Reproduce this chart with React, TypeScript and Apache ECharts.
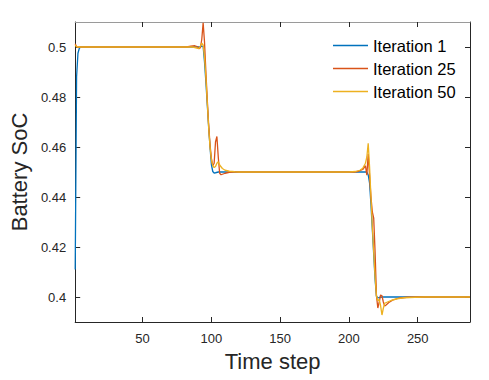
import React, { useEffect, useRef } from "react";
import * as echarts from "echarts";

// [time step, battery SoC]
const iteration1: [number, number][] = [
  [1, 0.411], [2, 0.488], [3, 0.4975], [4, 0.4995], [5, 0.5], [92, 0.5], [93, 0.5004], [94, 0.5002],
  [95, 0.494], [96, 0.486], [97, 0.477], [98, 0.468], [99, 0.46], [100, 0.453], [101, 0.4502],
  [102, 0.4496], [103, 0.4497], [105, 0.45], [213, 0.45], [214, 0.4488], [215, 0.4455], [216, 0.437],
  [217, 0.427], [218, 0.417], [219, 0.407], [220, 0.4003], [221, 0.3996], [222, 0.3998], [224, 0.4],
  [288, 0.4],
];

const iteration25: [number, number][] = [
  [1, 0.5013], [2, 0.5001], [3, 0.4999], [4, 0.5], [82, 0.5], [85, 0.5003], [88, 0.5005], [90, 0.5001],
  [91, 0.4993], [92, 0.4997], [93, 0.503], [94, 0.5097], [95, 0.502], [96, 0.49], [97, 0.479],
  [98, 0.469], [99, 0.461], [100, 0.4555], [101, 0.4525], [102, 0.4535], [103, 0.462], [104, 0.4642],
  [105, 0.456], [106, 0.4495], [107, 0.4489], [108, 0.4491], [110, 0.4495], [113, 0.4499], [116, 0.45],
  [204, 0.45], [207, 0.4503], [210, 0.451], [212, 0.4525], [213, 0.4487], [214, 0.4572], [215, 0.4485],
  [216, 0.44], [217, 0.434], [218, 0.4315], [219, 0.418], [220, 0.4005], [221, 0.3956], [222, 0.398],
  [223, 0.4008], [224, 0.4005], [225, 0.398], [226, 0.3964], [227, 0.3968], [229, 0.3978], [232, 0.3988],
  [236, 0.3995], [242, 0.3999], [250, 0.4], [288, 0.4],
];

const iteration50: [number, number][] = [
  [1, 0.5008], [2, 0.5001], [3, 0.5], [86, 0.5], [88, 0.4998], [90, 0.4995], [91, 0.4994], [92, 0.5004],
  [93, 0.5015], [94, 0.5008], [95, 0.496], [96, 0.488], [97, 0.478], [98, 0.468], [99, 0.46],
  [100, 0.455], [101, 0.4525], [102, 0.4518], [103, 0.4522], [104, 0.4535], [105, 0.4541], [106, 0.4528],
  [108, 0.4514], [110, 0.4507], [113, 0.4503], [117, 0.4501], [120, 0.45], [200, 0.45], [205, 0.4502],
  [208, 0.4507], [210, 0.4515], [212, 0.4535], [213, 0.456], [214, 0.4615], [215, 0.452], [216, 0.44],
  [217, 0.428], [218, 0.418], [219, 0.408], [220, 0.4005], [221, 0.3985], [222, 0.399], [223, 0.3965],
  [224, 0.3928], [225, 0.3955], [226, 0.3975], [228, 0.398], [231, 0.3987], [235, 0.3993], [240, 0.3997],
  [248, 0.3999], [255, 0.4], [288, 0.4],
];

const seriesNames = ["Iteration 1", "Iteration 25", "Iteration 50"];
const xTicks = [50, 100, 150, 200, 250];
const yTicks = [0.4, 0.42, 0.44, 0.46, 0.48, 0.5];

const FONT = "'Liberation Sans', Arial, Helvetica, sans-serif";
const AX = "#262626";

export default function App() {
  const ref = useRef<HTMLDivElement>(null);
  useEffect(() => {
    if (!ref.current) return;
    const chart = echarts.init(ref.current, undefined, { renderer: "svg" });
    const xBase = {
      type: "value" as const,
      min: 1,
      max: 288,
      splitLine: { show: false },
      axisLine: { show: true, onZero: false, lineStyle: { color: AX, width: 1 } },
      axisTick: { show: true, inside: true, length: 5, customValues: xTicks, lineStyle: { color: AX } },
    };
    const yBase = {
      type: "value" as const,
      min: 0.39,
      max: 0.51,
      splitLine: { show: false },
      axisLine: { show: true, onZero: false, lineStyle: { color: AX, width: 1 } },
      axisTick: { show: true, inside: true, length: 5, customValues: yTicks, lineStyle: { color: AX } },
    };
    chart.setOption({
      animation: false,
      backgroundColor: "#ffffff",
      textStyle: { fontFamily: FONT },
      grid: { left: 75, right: 19, top: 22, bottom: 58, containLabel: false },
      legend: {
        data: seriesNames.map((n) => ({ name: n, icon: "rect" })),
        orient: "vertical",
        left: 333,
        top: 37,
        padding: 0,
        itemGap: 6,
        itemWidth: 35,
        itemHeight: 1.5,
        textStyle: { fontFamily: FONT, fontSize: 16.5, color: "#000", lineHeight: 16.5 },
      },
      xAxis: [
        {
          ...xBase,
          position: "bottom",
          name: "Time step",
          nameLocation: "middle",
          nameGap: 28,
          nameTextStyle: { fontFamily: FONT, fontSize: 22, color: AX },
          axisLabel: { show: true, customValues: xTicks, fontSize: 13, color: AX, margin: 10, fontFamily: FONT },
        },
        {
          ...xBase,
          position: "top",
          axisLine: { show: true, onZero: false, lineStyle: { color: "#9a9a9a", width: 1 } },
          axisLabel: { show: false },
        },
      ],
      yAxis: [
        {
          ...yBase,
          position: "left",
          name: "Battery SoC",
          nameLocation: "middle",
          nameGap: 33,
          nameRotate: 90,
          nameTextStyle: { fontFamily: FONT, fontSize: 22, color: AX },
          axisLabel: {
            show: true,
            customValues: yTicks,
            fontSize: 13,
            color: AX,
            margin: 9,
            fontFamily: FONT,
            formatter: (v: number) => String(parseFloat(v.toFixed(2))),
          },
        },
        {
          ...yBase,
          position: "right",
          axisLabel: { show: false },
        },
      ],
      series: [
        { name: seriesNames[0], data: iteration1, color: "#0072BD" },
        { name: seriesNames[1], data: iteration25, color: "#D95319" },
        { name: seriesNames[2], data: iteration50, color: "#EDB120" },
      ].map((s) => ({
        type: "line",
        name: s.name,
        data: s.data,
        xAxisIndex: 0,
        yAxisIndex: 0,
        symbol: "none",
        showSymbol: false,
        clip: true,
        itemStyle: { color: s.color },
        lineStyle: { color: s.color, width: 1.3 },
      })),
    });
    return () => chart.dispose();
  }, []);
  return (
    <div
      ref={ref}
      style={{ position: "fixed", left: 0, top: 0, width: 489, height: 380, background: "#fff" }}
    />
  );
}
